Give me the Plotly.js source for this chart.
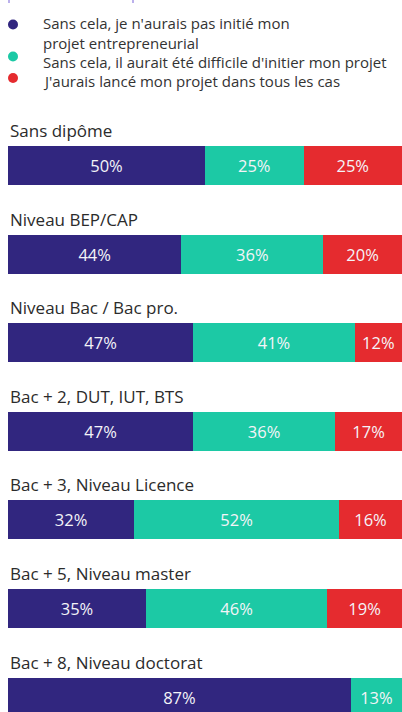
<!DOCTYPE html>
<html><head><meta charset="utf-8">
<script src="https://cdn.plot.ly/plotly-3.0.1.min.js"></script>
<style>html,body{margin:0;padding:0;background:#fff}#chart{width:402px;height:712px}</style>
</head><body><div id="chart"></div>
<script>
const categories = ["Sans dipôme","Niveau BEP/CAP","Niveau Bac / Bac pro.","Bac + 2, DUT, IUT, BTS","Bac + 3, Niveau Licence","Bac + 5, Niveau master","Bac + 8, Niveau doctorat"];
const seriesNames = ["Sans cela, je n'aurais pas initié mon<br>projet entrepreneurial","Sans cela, il aurait été difficile d'initier mon projet","J'aurais lancé mon projet dans tous les cas"];
const pasInitie = [50,44,47,47,32,35,87];
const difficile = [25,36,41,36,52,46,13];
const tousCas = [25,20,12,17,16,19,0];
const colors = ["#31267f","#1cc9a5","#e52b2f"];

const W=402,H=712,ML=8;
const px=x=>(x-ML)/(W-ML);
const py=y=>1-y/H;
const FONT="'Open Sans', Roboto, sans-serif";

const series=[pasInitie,difficile,tousCas];
const traces=series.map((vals,k)=>({
  type:'bar',orientation:'h',y:categories,x:vals,name:seriesNames[k],
  marker:{color:colors[k]},width:0.44,
  text:vals.map(v=>v>0?v+'%':''),textposition:'inside',insidetextanchor:'middle',
  textfont:{color:'#f4f4f8',size:16.5,family:FONT},constraintext:'none',
  hoverinfo:'skip',showlegend:false,cliponaxis:false
}));

const annotations=categories.map(c=>({xref:'paper',yref:'y',x:0,y:c,xanchor:'left',yanchor:'middle',
  yshift:35,text:c,showarrow:false,font:{size:17,color:'#2b2b2b',family:FONT}}));

const legendY=[33.5,62,81];
seriesNames.forEach((t,k)=>annotations.push({xref:'paper',yref:'paper',x:px(41),y:py(legendY[k]),xanchor:'left',yanchor:'middle',
  align:'left',text:t,showarrow:false,font:{size:15,color:'#333',family:FONT}}));

const shapes=[];
[[24.5,0],[56.5,1],[78,2]].forEach(([y,k])=>shapes.push({type:'circle',xref:'paper',yref:'paper',
  x0:px(8),x1:px(18),y0:py(y+5),y1:py(y-5),fillcolor:colors[k],line:{width:0}}));
[9,133].forEach(x=>shapes.push({type:'line',xref:'paper',yref:'paper',x0:px(x),x1:px(x),y0:py(0),y1:py(3),line:{color:'#a597e6',width:1.5}}));

const layout={width:W,height:H,margin:{l:ML,r:0,t:0,b:0},barmode:'stack',
  paper_bgcolor:'#fff',plot_bgcolor:'#fff',showlegend:false,
  xaxis:{range:[0,100],visible:false,fixedrange:true},
  yaxis:{type:'category',categoryorder:'array',categoryarray:categories,range:[6.1668,-1.8675],visible:false},
  annotations,shapes,font:{family:FONT}};
Plotly.newPlot('chart',traces,layout,{displayModeBar:false,staticPlot:true});
</script></body></html>
